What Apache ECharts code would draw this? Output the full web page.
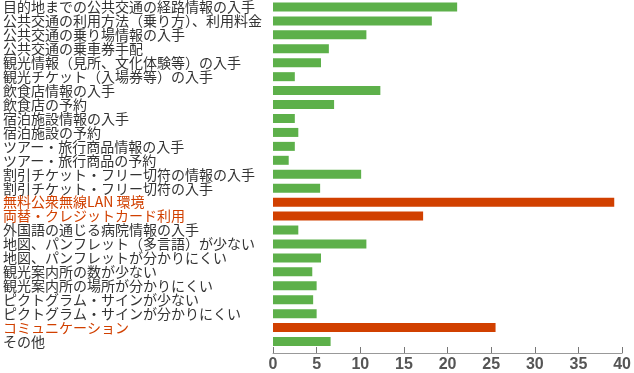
<!DOCTYPE html>
<html><head><meta charset="utf-8">
<script src="https://cdn.jsdelivr.net/npm/echarts@6/dist/echarts.min.js"></script>
<style>html,body{margin:0;padding:0;background:#fff}#c{width:634px;height:373px}</style>
</head><body><div id="c"></div>
<script>
const categories = [
  '目的地までの公共交通の経路情報の入手',
  '公共交通の利用方法（乗り方）、利用料金',
  '公共交通の乗り場情報の入手',
  '公共交通の乗車券手配',
  '観光情報（見所、文化体験等）の入手',
  '観光チケット（入場券等）の入手',
  '飲食店情報の入手',
  '飲食店の予約',
  '宿泊施設情報の入手',
  '宿泊施設の予約',
  'ツアー・旅行商品情報の入手',
  'ツアー・旅行商品の予約',
  '割引チケット・フリー切符の情報の入手',
  '割引チケット・フリー切符の入手',
  '無料公衆無線LAN 環境',
  '両替・クレジットカード利用',
  '外国語の通じる病院情報の入手',
  '地図、パンフレット（多言語）が少ない',
  '地図、パンフレットが分かりにくい',
  '観光案内所の数が少ない',
  '観光案内所の場所が分かりにくい',
  'ピクトグラム・サインが少ない',
  'ピクトグラム・サインが分かりにくい',
  'コミュニケーション',
  'その他'
];
const values = [21.1, 18.2, 10.7, 6.4, 5.5, 2.5, 12.3, 7.0, 2.5, 2.9, 2.5, 1.8, 10.1, 5.4, 39.1, 17.2, 2.9, 10.7, 5.5, 4.5, 5.0, 4.6, 5.0, 25.5, 6.6];
const highlighted = ['無料公衆無線LAN 環境', '両替・クレジットカード利用', 'コミュニケーション'];
const xTicks = {min: 0, max: 40, interval: 5};

const GREEN = '#5db04a', RED = '#d14000';
const data = values.map((v, i) => {
  const hi = highlighted.includes(categories[i]);
  return hi ? {value: v, itemStyle: {color: RED, borderColor: RED, borderWidth: 1.5}} : {value: v, itemStyle: {color: GREEN}};
});

const chart = echarts.init(document.getElementById('c'), null, {renderer: 'canvas'});
chart.setOption({
  animation: false,
  grid: {left: 270, right: 10, top: -2.6, bottom: 22.4, containLabel: false},
  xAxis: {
    type: 'value', min: xTicks.min, max: xTicks.max, interval: xTicks.interval,
    offset: 4.5,
    axisLine: {show: true, lineStyle: {color: '#999', width: 1}},
    axisTick: {show: true, inside: true, length: 6, lineStyle: {color: '#777'}},
    splitLine: {show: false},
    axisLabel: {color: '#555', fontSize: 16, fontWeight: 'bold', fontFamily: 'Liberation Sans, Arial, sans-serif', margin: 4}
  },
  yAxis: {
    type: 'category', data: categories, inverse: true,
    axisLine: {show: false}, axisTick: {show: false},
    axisLabel: {
      interval: 0, hideOverlap: false,
      align: 'left', margin: 270, fontSize: 14,
      fontFamily: 'Noto Sans CJK JP, sans-serif',
      color: function (v) { return highlighted.includes(v) ? '#d14000' : '#333'; }
    }
  },
  series: [{
    type: 'bar', data: data, barWidth: 9, silent: true
  }]
});
</script></body></html>
